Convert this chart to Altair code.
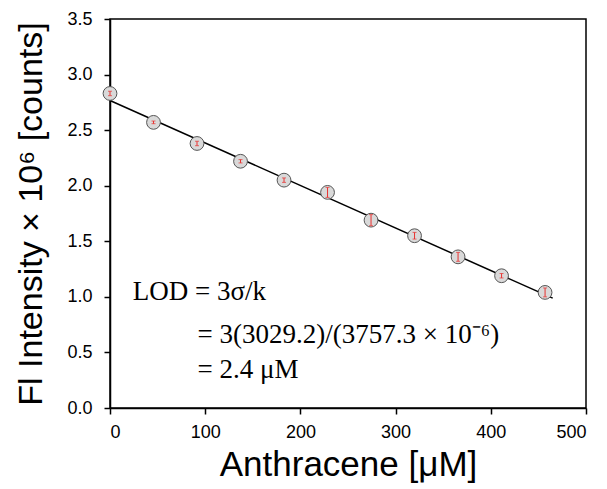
import altair as alt
import pandas as pd

# Data
conc = [0, 45.7, 91.4, 137.1, 182.8, 228.5, 274.2, 319.9, 365.6, 411.3, 457]
intensity = [2.83, 2.57, 2.38, 2.22, 2.05, 1.94, 1.69, 1.55, 1.36, 1.19, 1.04]
err = [0.02, 0.012, 0.02, 0.015, 0.02, 0.045, 0.05, 0.03, 0.04, 0.02, 0.04]

ann_text = ["LOD = 3σ/k", "= 3(3029.2)/(3757.3 × 10⁻⁶)", "= 2.4 μM"]
ann_x = [24, 92, 92]
ann_y = [1.04, 0.66, 0.34]

df = pd.DataFrame({"conc": conc, "inten": intensity, "err": err})
ann = pd.DataFrame({"t": ann_text, "x": ann_x, "y": ann_y})

xs = alt.Scale(domain=[0, 500], nice=False, zero=False)
ys = alt.Scale(domain=[0, 3.5], nice=False, zero=False)

xax = alt.Axis(values=[0, 100, 200, 300, 400, 500], title="Anthracene [μM]", format="d",
               labelPadding=9, titleFontSize=35, titlePadding=6)
yax = alt.Axis(values=[0, 0.5, 1.0, 1.5, 2.0, 2.5, 3.0, 3.5], title="Fl Intensity × 10⁶ [counts]",
               format=".1f", labelPadding=12, titleFontSize=34, titlePadding=18)

base = alt.Chart(df)

fit = base.transform_regression("conc", "inten", extent=[0, 465]).mark_line(
    color="black", strokeWidth=1.5
).encode(x=alt.X("conc:Q", scale=xs, axis=xax), y=alt.Y("inten:Q", scale=ys, axis=yax))

pts = base.mark_point(
    filled=True, shape="circle", size=190, fill="#d9d9d9", stroke="#555555", strokeWidth=1, opacity=1
).encode(x=alt.X("conc:Q", scale=xs), y=alt.Y("inten:Q", scale=ys))

eb = base.transform_calculate(
    lo="datum.inten - datum.err", hi="datum.inten + datum.err"
).mark_rule(color="#e8312f", strokeWidth=1).encode(
    x=alt.X("conc:Q", scale=xs), y=alt.Y("lo:Q", scale=ys), y2="hi:Q"
)
caps_lo = base.transform_calculate(lo="datum.inten - datum.err").mark_tick(
    color="#e8312f", size=4, thickness=1, orient="horizontal"
).encode(x=alt.X("conc:Q", scale=xs), y=alt.Y("lo:Q", scale=ys))
caps_hi = base.transform_calculate(hi="datum.inten + datum.err").mark_tick(
    color="#e8312f", size=4, thickness=1, orient="horizontal"
).encode(x=alt.X("conc:Q", scale=xs), y=alt.Y("hi:Q", scale=ys))

txt = alt.Chart(ann).mark_text(
    align="left", baseline="middle", font="Liberation Serif", fontSize=27, color="black"
).encode(x=alt.X("x:Q", scale=xs), y=alt.Y("y:Q", scale=ys), text="t:N")

chart = alt.layer(fit, pts, eb, caps_lo, caps_hi, txt).properties(
    width=476, height=389,
    padding={"left": 110, "top": 19, "right": 21, "bottom": 81},
    autosize=alt.AutoSizeParams(type="none"),
    background="white",
).configure_view(
    stroke="black", strokeWidth=1.5
).configure_axis(
    grid=False,
    domainColor="black", domainWidth=1.5,
    tickColor="black", tickWidth=1.5, tickSize=6,
    labelFont="Liberation Sans", labelFontSize=18, labelColor="black",
    titleFont="Liberation Sans", titleFontWeight="normal", titleColor="black",
).configure_axisX(labelAngle=0)

chart.save("out.html", embed_options={"renderer": "svg", "actions": False})
